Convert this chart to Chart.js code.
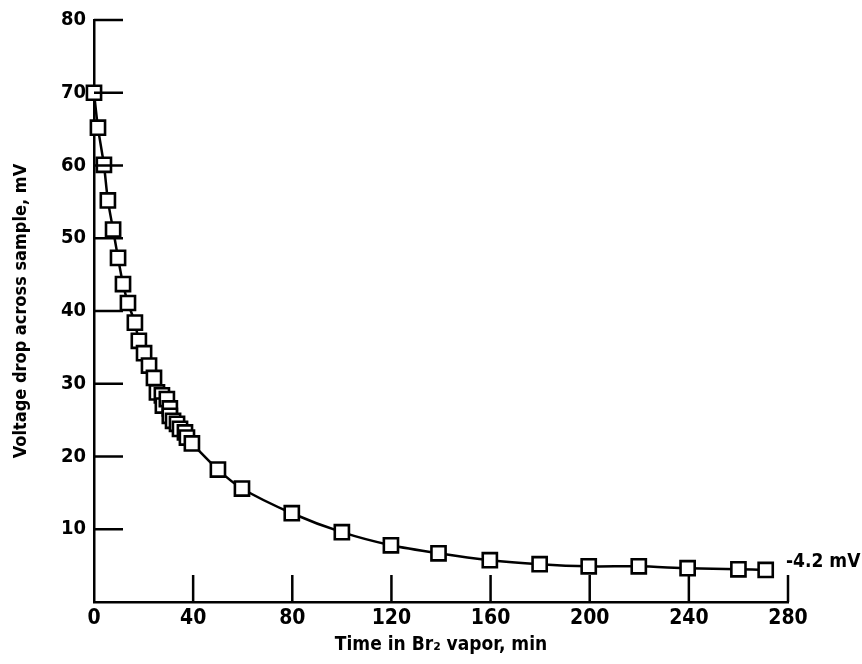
<!DOCTYPE html>
<html>
<head>
<meta charset="utf-8">
<script src="https://cdn.jsdelivr.net/npm/chart.js@4"></script>
<style>
  html, body { margin: 0; padding: 0; background: #fff; }
  #wrap { width: 862px; height: 664px; position: relative; }
</style>
</head>
<body>
<div id="wrap"><canvas id="decay-chart"></canvas></div>
<script>
// time in Br2 vapor (min) and voltage drop (mV)
const timeMin = [0, 1.6, 4, 5.6, 7.7, 9.7, 11.7, 13.7, 16.5, 18.1, 20.2, 22.2, 24.2, 25.4, 27.4, 27.8, 29.4,
  30.6, 30.6, 31.9, 33.5, 34.7, 36.7, 37.5, 39.5, 50, 59.7, 79.8, 100, 119.8, 139, 159.7, 179.8, 199.6,
  219.8, 239.5, 260, 271];
const voltageMv = [70, 65.2, 60.1, 55.2, 51.2, 47.3, 43.7, 41.1, 38.4, 35.9, 34.2, 32.5, 30.8, 28.8, 28.4, 27.0, 27.9,
  26.6, 25.6, 24.9, 24.5, 23.8, 23.3, 22.6, 21.8, 18.2, 15.6, 12.2, 9.6, 7.8, 6.7, 5.75, 5.2, 4.9,
  4.9, 4.65, 4.5, 4.4];
const xTicks = [0, 40, 80, 120, 160, 200, 240, 280];
const yTicks = [10, 20, 30, 40, 50, 60, 70, 80];
const endLabel = '-4.2 mV';

const FONT = "'Liberation Sans Narrow', 'DejaVu Sans Condensed', sans-serif";

// inward tick marks + the end value note
const insideTicks = {
  id: 'insideTicks',
  afterDraw(chart) {
    const ctx = chart.ctx;
    const xs = chart.scales.x, ys = chart.scales.y;
    const area = chart.chartArea;
    ctx.save();
    ctx.strokeStyle = '#000';
    ctx.lineWidth = 2.5;
    ctx.beginPath();
    yTicks.forEach(v => {
      const py = ys.getPixelForValue(v);
      ctx.moveTo(area.left, py);
      ctx.lineTo(area.left + 29, py);
    });
    xTicks.filter(v => v > 0).forEach(v => {
      const px = xs.getPixelForValue(v);
      ctx.moveTo(px, area.bottom);
      ctx.lineTo(px, area.bottom - 27);
    });
    ctx.stroke();
    ctx.fillStyle = '#000';
    ctx.font = 'bold 19px ' + FONT;
    ctx.textBaseline = 'middle';
    ctx.fillText(endLabel, xs.getPixelForValue(280) - 2, ys.getPixelForValue(5.5));
    ctx.restore();
  }
};

const ctx = document.getElementById('decay-chart');
new Chart(ctx, {
  type: 'scatter',
  data: {
    datasets: [{
      data: timeMin.map((t, i) => ({ x: t, y: voltageMv[i] })),
      showLine: true,
      clip: false,
      borderColor: '#000',
      borderWidth: 2.5,
      tension: 0.25,
      pointStyle: 'rect',
      pointRadius: 10,
      pointBorderWidth: 2.6,
      pointBackgroundColor: '#fff',
      pointBorderColor: '#000'
    }]
  },
  options: {
    responsive: true,
    maintainAspectRatio: false,
    animation: false,
    layout: { padding: { top: 16, right: 74, left: 0, bottom: 0 } },
    plugins: { legend: { display: false }, tooltip: { enabled: false } },
    scales: {
      x: {
        type: 'linear', min: 0, max: 280,
        afterBuildTicks: s => { s.ticks = xTicks.map(v => ({ value: v })); },
        afterFit: s => { s.height = 62; },
        grid: { display: false, drawTicks: false },
        border: { display: true, color: '#000', width: 2.5 },
        ticks: { color: '#000', padding: 4, font: { family: FONT, size: 21, weight: 'bold' } },
        title: {
          display: true, text: 'Time in Br₂ vapor, min', color: '#000',
          font: { family: FONT, size: 19, weight: 'bold' }, padding: { top: 0, bottom: 8 }
        }
      },
      y: {
        type: 'linear', min: 0, max: 80,
        afterBuildTicks: s => { s.ticks = yTicks.map(v => ({ value: v })); },
        afterFit: s => { s.width = 94; },
        grid: { display: false, drawTicks: false },
        border: { display: true, color: '#000', width: 2.5 },
        ticks: { color: '#000', padding: 8, font: { family: FONT, size: 20, weight: 'bold' } },
        title: {
          display: true, text: 'Voltage drop across sample, mV', color: '#000',
          font: { family: FONT, size: 18, weight: 'bold' }, padding: { top: 11, bottom: 0 }
        }
      }
    }
  },
  plugins: [insideTicks]
});
</script>
</body>
</html>
